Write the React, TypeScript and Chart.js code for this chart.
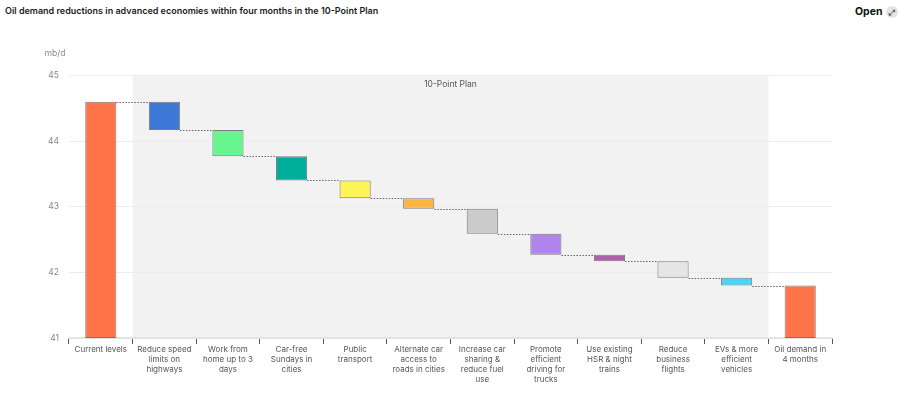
import React, { useEffect, useRef } from "react";
import { Chart, registerables } from "chart.js";

Chart.register(...registerables);

const titleText = "Oil demand reductions in advanced economies within four months in the 10-Point Plan";
const unitLabel = "mb/d";
const bandLabel = "10-Point Plan";

const categories: (string | string[])[] = [
  "Current levels",
  ["Reduce speed", "limits on", "highways"],
  ["Work from", "home up to 3", "days"],
  ["Car-free", "Sundays in", "cities"],
  ["Public", "transport"],
  ["Alternate car", "access to", "roads in cities"],
  ["Increase car", "sharing &", "reduce fuel", "use"],
  ["Promote", "efficient", "driving for", "trucks"],
  ["Use existing", "HSR & night", "trains"],
  ["Reduce", "business", "flights"],
  ["EVs & more", "efficient", "vehicles"],
  ["Oil demand in", "4 months"],
];

const startLevel = 44.6;
const reductions = [0.43, 0.4, 0.37, 0.27, 0.16, 0.38, 0.32, 0.1, 0.25, 0.12];
const endLevel = 41.8;

const barColors = [
  "#FF7449",
  "#3D78D6",
  "#66F58E",
  "#00AE9B",
  "#FFF457",
  "#FFB443",
  "#CBCBCB",
  "#B085EE",
  "#AE62AE",
  "#E5E5E5",
  "#45D6F9",
  "#FF7449",
];

const yMin = 41;
const yMax = 45;
const yStep = 1;

const FONT = 'Inter, "Open Sans", sans-serif';

export default function App() {
  const ref = useRef<HTMLCanvasElement | null>(null);

  useEffect(() => {
    if (!ref.current) return;
    const data: [number, number][] = [[yMin, startLevel]];
    let level = startLevel;
    for (const r of reductions) {
      data.push([level - r, level]);
      level -= r;
    }
    data.push([yMin, endLevel]);

    const bandPlugin = {
      id: "band",
      beforeDraw(chart: any) {
        const { ctx, chartArea, scales } = chart;
        const xs = scales.x;
        const half = (xs.getPixelForValue(1) - xs.getPixelForValue(0)) / 2;
        const x0 = xs.getPixelForValue(1) - half;
        const x1 = xs.getPixelForValue(categories.length - 2) + half;
        ctx.save();
        ctx.fillStyle = "#f2f2f2";
        ctx.fillRect(x0, chartArea.top, x1 - x0, chartArea.bottom - chartArea.top);
        ctx.fillStyle = "#555";
        ctx.font = `8.5px ${FONT}`;
        ctx.textAlign = "center";
        ctx.textBaseline = "middle";
        ctx.fillText(bandLabel, (x0 + x1) / 2, chartArea.top + 8.5);
        ctx.fillStyle = "#888";
        ctx.fillText(unitLabel, chartArea.left - 14, chartArea.top - 22.5);
        ctx.restore();
      },
    };

    const connectorPlugin = {
      id: "connectors",
      afterDatasetsDraw(chart: any) {
        const { ctx, scales } = chart;
        const meta = chart.getDatasetMeta(0);
        ctx.save();
        ctx.strokeStyle = "#666";
        ctx.lineWidth = 1;
        ctx.setLineDash([1.5, 1.5]);
        for (let i = 0; i < meta.data.length - 1; i++) {
          const a = meta.data[i].getProps(["x", "width"], true);
          const b = meta.data[i + 1].getProps(["x", "width"], true);
          const y = Math.round(scales.y.getPixelForValue(data[i + 1][1])) + 0.5;
          ctx.beginPath();
          ctx.moveTo(a.x + a.width / 2, y);
          ctx.lineTo(b.x - b.width / 2, y);
          ctx.stroke();
        }
        ctx.restore();
      },
    };

    const chart = new Chart(ref.current, {
      type: "bar",
      data: {
        labels: categories,
        datasets: [
          {
            data: data as any,
            backgroundColor: barColors,
            borderColor: "rgba(60,60,60,0.65)",
            borderWidth: 1,
            borderSkipped: false,
            barPercentage: 0.49,
            categoryPercentage: 1,
          },
        ],
      },
      options: {
        animation: false,
        responsive: false,
        maintainAspectRatio: false,
        layout: { padding: { top: 75.5, right: 72, left: 0, bottom: 0 } },
        plugins: {
          legend: { display: false },
          tooltip: { enabled: false },
          title: { display: false },
        },
        scales: {
          x: {
            grid: {
              display: true,
              drawOnChartArea: false,
              drawTicks: true,
              tickLength: 6,
              color: "#555",
              offset: true,
            },
            border: { display: true, color: "#e3e3e3", width: 2 },
            ticks: {
              color: "#555",
              font: { family: FONT, size: 8, lineHeight: 1.25 },
              maxRotation: 0,
              minRotation: 0,
              autoSkip: false,
              padding: 1,
            },
            afterFit(scale: any) {
              scale.height = 64;
            },
          },
          y: {
            min: yMin,
            max: yMax,
            grid: { color: "#ececec", drawTicks: false, lineWidth: 1 },
            border: { display: false },
            ticks: {
              stepSize: yStep,
              color: "#888",
              font: { family: FONT, size: 8.5 },
              padding: 10,
            },
            afterFit(scale: any) {
              scale.width = 69;
            },
          },
        },
      },
      plugins: [bandPlugin, connectorPlugin],
    });
    return () => chart.destroy();
  }, []);

  return (
    <div style={{ position: "absolute", left: 0, top: 0, width: 904, height: 402, background: "#fff", fontFamily: FONT }}>
      <div style={{ position: "absolute", left: 5, top: 5, fontSize: 9, fontWeight: 600, color: "#1c1c1c", whiteSpace: "nowrap" }}>
        {titleText}
      </div>
      <div style={{ position: "absolute", left: 855, top: 5, fontSize: 10.5, fontWeight: 700, color: "#111", display: "flex", alignItems: "center" }}>
        <span>Open</span>
        <span style={{ display: "inline-block", width: 12, height: 12, borderRadius: 6, background: "#e4e4e4", marginLeft: 3, fontSize: 8, lineHeight: "12px", textAlign: "center", color: "#666" }}>⤢</span>
      </div>
      <canvas ref={ref} width={904} height={402} style={{ position: "absolute", left: 0, top: 0, width: 904, height: 402 }} />
    </div>
  );
}
